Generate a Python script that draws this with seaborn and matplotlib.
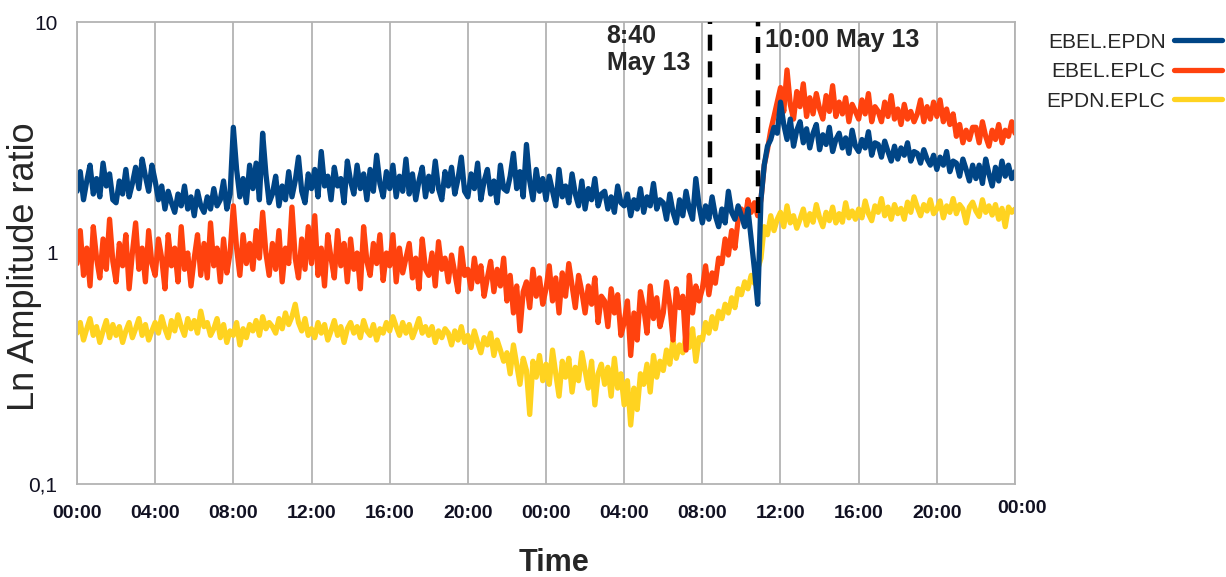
import numpy as np
import pandas as pd
import matplotlib
matplotlib.use("Agg")
import matplotlib.pyplot as plt
import matplotlib.transforms as mtransforms
import seaborn as sns

# Time axis: 48 hours in 10-minute steps (00:00 May 12 -> 00:00 May 14)
hours = np.arange(289) / 6.0

series_names = ["EBEL.EPDN", "EBEL.EPLC", "EPDN.EPLC"]
series_colors = ["#004586", "#ff420e", "#ffd320"]

# one row per hour, six 10-minute samples per row
ebel_epdn = [
    1.85, 2.25, 1.70, 2.05, 2.40, 1.80,
    2.10, 1.75, 2.45, 1.95, 2.20, 1.70,
    1.65, 2.05, 1.80, 2.30, 1.75, 2.00,
    2.35, 1.90, 2.55, 2.15, 1.85, 2.40,
    2.05, 1.70, 1.95, 1.55, 1.85, 1.65,
    1.50, 1.80, 1.60, 1.95, 1.55, 1.75,
    1.45, 1.85, 1.60, 1.50, 1.75, 1.55,
    1.90, 1.60, 1.70, 2.05, 1.55, 1.80,
    3.50, 2.30, 1.75, 2.10, 1.65, 2.40,
    1.90, 2.45, 1.70, 3.30, 2.20, 1.65,
    1.80, 2.15, 1.60, 1.95, 1.70, 2.25,
    1.75, 2.05, 2.60, 1.85, 1.65, 2.20,
    1.90, 2.30, 1.75, 2.75, 1.95, 2.15,
    1.70, 2.35, 1.95, 2.10, 1.65, 2.50,
    2.05, 1.80, 2.40, 1.90, 2.20, 1.70,
    2.30, 1.85, 2.65, 2.00, 1.75, 2.25,
    1.90, 2.40, 1.75, 2.15, 1.85, 2.55,
    1.80, 2.20, 1.70, 2.05, 2.35, 1.75,
    2.15, 1.85, 2.50, 1.90, 1.70, 2.25,
    1.95, 2.35, 1.80, 2.10, 2.60, 1.85,
    1.75, 2.20, 1.90, 2.45, 1.70, 2.05,
    2.30, 1.80, 2.05, 1.65, 2.40, 1.90,
    1.85, 2.15, 2.70, 1.90, 2.25, 1.75,
    2.95, 2.05, 1.70, 2.30, 1.85, 2.10,
    1.70, 2.15, 1.85, 1.60, 2.30, 1.75,
    1.95, 1.65, 2.20, 1.80, 1.60, 2.05,
    1.55, 1.90, 1.70, 2.10, 1.60, 1.80,
    1.85, 1.55, 1.75, 1.50, 1.95, 1.65,
    1.60, 1.80, 1.45, 1.70, 1.55, 1.90,
    1.50, 1.75, 1.60, 2.00, 1.55, 1.70,
    1.65, 1.40, 1.80, 1.50, 1.35, 1.70,
    1.45, 1.85, 1.55, 1.40, 2.10, 1.60,
    1.35, 1.60, 1.40, 1.75, 1.45, 1.30,
    1.55, 1.35, 1.85, 1.50, 1.40, 1.60,
    1.45, 1.30, 1.55, 1.15, 0.85, 0.60,
    1.70, 2.40, 2.90, 3.10, 3.50, 3.30,
    4.50, 3.60, 3.10, 3.80, 2.90, 3.40,
    3.70, 3.00, 3.45, 2.85, 3.30, 3.60,
    2.80, 3.25, 2.95, 3.50, 2.75, 3.10,
    3.30, 2.85, 3.15, 2.70, 3.40, 2.90,
    2.75, 3.10, 2.85, 3.35, 2.65, 3.00,
    2.95, 2.60, 3.05, 2.75, 2.50, 2.90,
    2.55, 2.85, 2.65, 3.00, 2.50, 2.75,
    2.70, 2.45, 2.80, 2.55, 2.40, 2.65,
    2.30, 2.60, 2.40, 2.75, 2.25, 2.50,
    2.45, 2.15, 2.55, 2.30, 2.05, 2.40,
    2.10, 2.40, 2.00, 2.55, 2.20, 1.95,
    2.35, 2.05, 2.50, 2.15, 2.40, 2.10,
    2.25,
]

ebel_eplc = [
    0.90, 1.25, 0.80, 1.05, 0.72, 1.30,
    0.95, 0.78, 1.15, 0.85, 1.40, 0.92,
    0.75, 1.10, 0.88, 1.20, 0.70, 1.00,
    1.35, 0.85, 1.05, 0.75, 1.25, 0.90,
    0.80, 1.15, 0.95, 0.70, 1.20, 0.88,
    1.05, 0.75, 1.30, 0.85, 1.00, 0.72,
    0.95, 1.20, 0.80, 1.10, 0.78, 1.35,
    0.88, 1.05, 0.75, 1.15, 0.82, 1.00,
    1.60, 1.05, 0.80, 1.20, 0.90, 1.10,
    0.85, 1.25, 0.95, 1.50, 1.00, 0.80,
    1.10, 0.85, 1.25, 0.75, 1.05, 0.90,
    1.58, 0.95, 0.78, 1.15, 0.85, 1.30,
    0.90, 1.45, 0.80, 1.05, 0.72, 1.20,
    0.95, 0.78, 1.25, 0.88, 1.10, 0.75,
    1.15, 0.85, 1.00, 0.70, 1.30, 0.92,
    0.80, 1.10, 0.90, 1.20, 0.76, 1.00,
    0.88, 1.20, 0.75, 1.05, 0.82, 0.95,
    1.10, 0.78, 0.95, 0.70, 1.15, 0.85,
    0.80, 1.00, 0.72, 1.12, 0.85, 0.95,
    0.75, 0.98, 0.82, 0.68, 1.05, 0.80,
    0.85, 0.70, 0.95, 0.75, 0.88, 0.65,
    0.78, 0.92, 0.68, 0.85, 0.72, 0.95,
    0.62, 0.80, 0.55, 0.72, 0.46, 0.68,
    0.75, 0.58, 0.85, 0.65, 0.78, 0.60,
    0.70, 0.88, 0.62, 0.78, 0.55, 0.82,
    0.65, 0.90, 0.72, 0.58, 0.80, 0.68,
    0.55, 0.72, 0.60, 0.78, 0.50, 0.65,
    0.62, 0.48, 0.70, 0.55, 0.66, 0.44,
    0.50, 0.62, 0.36, 0.55, 0.42, 0.68,
    0.58, 0.45, 0.72, 0.52, 0.64, 0.48,
    0.55, 0.75, 0.60, 0.42, 0.70, 0.58,
    0.65, 0.38, 0.80, 0.55, 0.72, 0.62,
    0.70, 0.88, 0.66, 0.82, 0.74, 0.95,
    0.90, 1.15, 0.98, 1.25, 1.05, 1.40,
    1.55, 1.35, 1.70, 1.50, 1.65, 1.45,
    1.70, 2.40, 2.80, 3.40, 3.90, 4.50,
    5.20, 4.10, 6.20, 4.40, 3.80, 5.00,
    4.30, 5.40, 3.90, 4.70, 4.00, 4.90,
    4.20, 3.80, 4.80, 4.10, 5.30, 3.90,
    4.50, 4.00, 4.70, 3.70, 4.40, 4.10,
    3.80, 4.60, 4.00, 4.90, 3.70, 4.30,
    4.10, 3.70, 4.50, 3.90, 4.80, 3.80,
    4.20, 3.60, 4.40, 3.80, 4.10, 3.70,
    4.00, 4.60, 3.70, 4.30, 3.80, 4.50,
    3.90, 4.60, 3.70, 4.20, 3.60, 4.00,
    3.20, 3.60, 3.00, 3.40, 3.10, 3.50,
    3.50, 3.00, 3.70, 3.20, 2.90, 3.40,
    3.10, 3.60, 3.00, 3.40, 3.20, 3.70,
    3.30,
]

epdn_eplc = [
    0.45, 0.50, 0.42, 0.47, 0.52, 0.44,
    0.48, 0.41, 0.46, 0.51, 0.43, 0.49,
    0.44, 0.48, 0.41, 0.46, 0.50, 0.43,
    0.47, 0.52, 0.44, 0.49, 0.42, 0.46,
    0.50, 0.45, 0.53, 0.47, 0.43, 0.51,
    0.46, 0.54, 0.48, 0.44, 0.52, 0.47,
    0.51, 0.45, 0.56, 0.48, 0.50, 0.44,
    0.47, 0.52, 0.43, 0.49, 0.41, 0.46,
    0.44, 0.50, 0.40, 0.47, 0.43, 0.49,
    0.46, 0.51, 0.44, 0.53, 0.47, 0.50,
    0.48, 0.45, 0.52, 0.47, 0.55, 0.49,
    0.53, 0.60, 0.50, 0.46, 0.52, 0.44,
    0.47, 0.43, 0.50, 0.45, 0.49, 0.42,
    0.46, 0.51, 0.44, 0.48, 0.41, 0.47,
    0.50, 0.45, 0.48, 0.43, 0.51, 0.46,
    0.44, 0.49, 0.42, 0.47, 0.45, 0.50,
    0.46, 0.53, 0.48, 0.44, 0.50, 0.45,
    0.49, 0.43, 0.47, 0.52, 0.45, 0.48,
    0.44, 0.48, 0.41, 0.46, 0.43, 0.47,
    0.45, 0.40, 0.46, 0.42, 0.48, 0.41,
    0.44, 0.39, 0.46, 0.41, 0.37, 0.43,
    0.40, 0.45, 0.36, 0.42, 0.38, 0.34,
    0.37, 0.30, 0.40, 0.33, 0.27, 0.35,
    0.31, 0.20, 0.34, 0.29, 0.36, 0.28,
    0.33, 0.27, 0.38, 0.30, 0.24, 0.34,
    0.29, 0.35, 0.25, 0.32, 0.28, 0.37,
    0.31, 0.26, 0.34, 0.22, 0.30, 0.33,
    0.27, 0.32, 0.24, 0.35, 0.26, 0.30,
    0.22, 0.28, 0.18, 0.26, 0.21, 0.30,
    0.27, 0.33, 0.25, 0.36, 0.29, 0.34,
    0.31, 0.38, 0.33, 0.42, 0.35, 0.40,
    0.37, 0.44, 0.39, 0.47, 0.34, 0.43,
    0.42, 0.50, 0.45, 0.53, 0.47, 0.56,
    0.52, 0.60, 0.55, 0.64, 0.58, 0.70,
    0.66, 0.75, 0.70, 0.80, 0.74, 0.85,
    0.95, 1.30, 1.20, 1.45, 1.25, 1.40,
    1.50, 1.30, 1.60, 1.35, 1.45, 1.28,
    1.40, 1.55, 1.32, 1.48, 1.36, 1.62,
    1.42, 1.30, 1.50, 1.38, 1.58, 1.35,
    1.48, 1.36, 1.65, 1.42, 1.52, 1.40,
    1.55, 1.42, 1.68, 1.48, 1.38, 1.60,
    1.50, 1.72, 1.45, 1.58, 1.40, 1.62,
    1.48, 1.56, 1.40, 1.66, 1.50, 1.75,
    1.58, 1.45, 1.62, 1.52, 1.70, 1.48,
    1.55, 1.68, 1.42, 1.60, 1.50, 1.72,
    1.48, 1.62, 1.55, 1.35, 1.58, 1.66,
    1.52, 1.44, 1.70, 1.50, 1.60, 1.46,
    1.62, 1.40, 1.56, 1.30, 1.58, 1.50,
    1.55,
]

# Tick positions / labels
x_ticks = list(range(0, 49, 4))
x_tick_labels = ["00:00", "04:00", "08:00", "12:00", "16:00", "20:00",
                 "00:00", "04:00", "08:00", "12:00", "16:00", "20:00", "00:00"]
y_ticks = [0.1, 1, 10]
y_tick_labels = ["0,1", "1", "10"]

# Event markers (hours since start) and the lower end of each dashed line
event_hours = [32.4, 34.85]
event_bottoms = [1.99, 1.49]
event_labels = ["8:40\nMay 13", "10:00 May 13"]

df = pd.DataFrame({
    "hours": np.concatenate([hours] * 3),
    "ratio": np.concatenate([ebel_epdn, ebel_eplc, epdn_eplc]),
    "pair": np.repeat(series_names, len(hours)),
})

sns.set_theme(style="white")
plt.rcParams["font.family"] = ["Liberation Sans", "DejaVu Sans"]

fig = plt.figure(figsize=(12.26, 5.77), dpi=100)
ax = fig.add_axes([77 / 1226, 1 - 484 / 577, (1015 - 77) / 1226, (484 - 22) / 577])

grid_grey = "#b3b3b3"

# draw bottom-to-top: yellow, orange, blue
handles = {}
for name, color in reversed(list(zip(series_names, series_colors))):
    sub = df[df["pair"] == name]
    sns.lineplot(data=sub, x="hours", y="ratio", color=color, linewidth=3.8,
                 ax=ax, legend=False, estimator=None)
    handles[name] = ax.lines[-1]

ax.set_yscale("log")
ax.set_ylim(0.1, 10)
ax.set_xlim(0, 48)

ax.set_xticks(x_ticks)
ax.set_xticklabels(x_tick_labels, fontsize=14, fontweight="bold")
ax.set_yticks(y_ticks)
ax.set_yticklabels(y_tick_labels, fontsize=15)
ax.yaxis.set_minor_locator(matplotlib.ticker.NullLocator())

ax.tick_params(axis="both", which="major", direction="out", color=grid_grey,
               width=1.2, labelcolor="#111122")
ax.tick_params(axis="x", length=9, pad=6)
ax.tick_params(axis="y", length=10, pad=4)

# last time label sits a little higher and to the right
last = ax.get_xticklabels()[-1]
last.set_transform(last.get_transform()
                   + mtransforms.ScaledTranslation(0.07, 0.045, fig.dpi_scale_trans))

ax.grid(axis="x", color=grid_grey, linewidth=1.3)
ax.grid(axis="y", visible=False)
for sp in ax.spines.values():
    sp.set_color(grid_grey)
    sp.set_linewidth(1.3)

ax.set_xlabel("Time", fontsize=22, fontweight="bold", va="top")
ax.xaxis.set_label_coords(0.5085, -0.138)
ax.set_ylabel("Ln Amplitude ratio", fontsize=26, va="center")
ax.yaxis.set_label_coords(-0.0565, 0.47)

# Event lines
for h, b in zip(event_hours, event_bottoms):
    ax.plot([h, h], [b, 10], color="black", linewidth=3.2,
            linestyle=(0, (3.6, 2.4)), zorder=5, clip_on=False)

ax.text(27.1, 0.995, event_labels[0], transform=ax.get_xaxis_transform(),
        fontsize=18, fontweight="bold", va="top", ha="left", linespacing=1.15)
ax.text(35.2, 0.962, event_labels[1], transform=ax.get_xaxis_transform(),
        fontsize=18, fontweight="bold", va="center", ha="left")

# Legend to the right of the plot, label before line
leg_handles = [handles[n] for n in series_names]
fig.legend(leg_handles, series_names, loc="upper left",
           bbox_to_anchor=(1028 / 1226, 1 - 14 / 577), frameon=False,
           markerfirst=False, fontsize=15, handlelength=2.3,
           handletextpad=0.4, labelspacing=0.5)

fig.savefig("out.png", dpi=100)
